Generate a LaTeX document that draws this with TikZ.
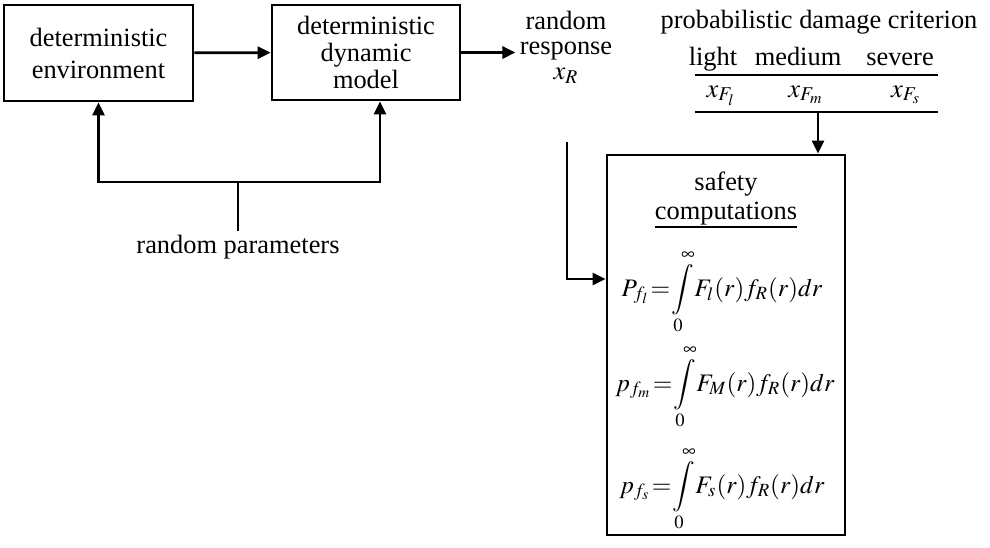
\documentclass[tikz,border=0pt]{standalone}
\usepackage{mathptmx}
\usepackage{fontspec}
\setmainfont{Liberation Serif}
\usetikzlibrary{arrows.meta, positioning, calc}
\newcommand{\tightmath}{\thickmuskip=1mu\relax\medmuskip=1mu\relax}
\newcommand{\safeint}{\displaystyle\int\limits_0^\infty\!}
\tikzset{
    block/.style={rectangle, draw, line width=1.4pt, align=center, inner sep=2pt},
    plain text/.style={align=center, inner sep=2pt},
    formula/.style={inner sep=2pt, anchor=base, font=\fontsize{12.6}{13}\selectfont},
    arr/.style={line width=1.4pt, -{Triangle[length=6.5pt,width=6pt]}},
    wire/.style={line width=1.4pt},
    table line/.style={line width=1pt}
}

\begin{document}
\begin{tikzpicture}[x=0.5pt, y=-0.5pt, font=\fontsize{13.2}{13.5}\selectfont]
    \useasboundingbox (0,0) rectangle (990,547);

    % system and its inputs
    \node[block, minimum width=94.5pt, minimum height=48pt, font=\fontsize{13.2}{16}\selectfont] (env) at (98.5,53) {deterministic\\environment};
    \node[block, minimum width=94pt, minimum height=47.5pt] (model) at (366,52.5) {deterministic\\dynamic\\model};
    \node[plain text, anchor=north] (param) at (238,231) {random parameters};
    \coordinate (split) at (238,182);
    \node[plain text, font=\fontsize{13.2}{12.5}\selectfont] (resp) at (566,47) {random\\response\\$x_R$};

    \draw[arr] (env) -- (model);
    \draw[wire] (param) -- (split);
    \draw[arr] (split) -| (env.south);
    \draw[arr] (split) -| ($(model.south)+(7pt,0)$);
    \draw[arr] (model.east) -- (model.east -| resp.west);

    % damage criterion
    \node[plain text, anchor=base] (crit) at (819,28) {probabilistic damage criterion};
    \node[plain text, anchor=base] (light) at (713,65) {light};
    \node[plain text, anchor=base] (medium) at (798,65) {medium};
    \node[plain text, anchor=base] (severe) at (900,65) {severe};
    \node[plain text, anchor=base] (xl) at (721,97) {$x_{F_l}$};
    \node[plain text, anchor=base] (xm) at (806,97) {$x_{F_m}$};
    \node[plain text, anchor=base] (xs) at (906,97) {$x_{F_s}$};
    \draw[table line] (695,75) -- (938,75);
    \draw[table line] (695,112) -- (938,112);
    \coordinate (critout) at (818,112);

    % safety computations
    \node[block, minimum width=119pt, minimum height=190pt] (safety) at (726,345) {};
    \node[plain text, font=\fontsize{13.2}{14.5}\selectfont] (title) at (726,199) {safety\\computations};
    \draw[table line] (655,227) -- (797,227);
    \node[formula] (eql) at (722,296) {$\tightmath P_{f_l}=\safeint F_l(r)f_R(r)dr$};
    \node[formula] (eqm) at (725,391) {$\tightmath p_{f_m}=\safeint F_M(r)f_R(r)dr$};
    \node[formula] (eqs) at (722,493) {$\tightmath p_{f_s}=\safeint F_s(r)f_R(r)dr$};
    \coordinate (xin) at (567,142);
    \coordinate (safein) at (safety.west |- 0,279);

    \draw[arr] (critout) -- (critout |- safety.north);
    \draw[arr] (xin) |- (safein);
\end{tikzpicture}
\end{document}
